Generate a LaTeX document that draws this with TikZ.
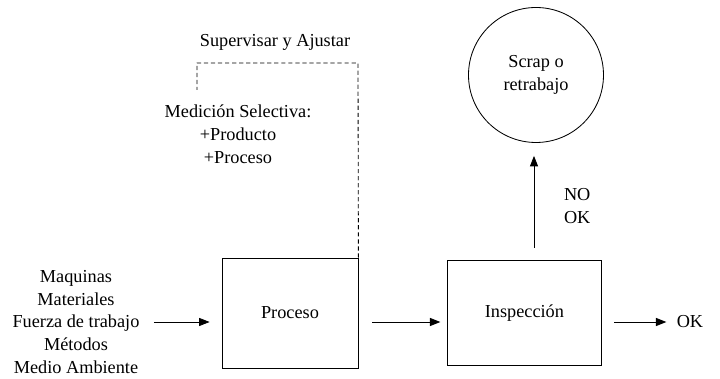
\documentclass[tikz,border=0pt]{standalone}
\usepackage{fontspec}
\setmainfont{Liberation Serif}
\usetikzlibrary{arrows.meta}

\begin{document}
\begin{tikzpicture}[
    font=\rmfamily\fontsize{13}{16.2}\selectfont,
    line width=0.6pt,
    box/.style={rectangle, draw=black, minimum width=3.4cm, minimum height=2.75cm},
    txt/.style={align=center, inner sep=0pt},
    arr/.style={-{Triangle[length=2.6mm, width=2mm]}}
]
    \useasboundingbox (0, 0) rectangle (18, 9.475);

    % Main boxes
    \node[box] (proceso) at (7.25, 1.65) {Proceso};
    \node[box, minimum width=3.83cm, minimum height=2.63cm] (inspeccion) at (13.11, 1.66) {Inspecci\'on};
    \node[circle, draw=black, minimum size=3.375cm, align=center] (scrap) at (13.4, 7.6) {Scrap o\\retrabajo};

    % Texts
    \node[txt] (entradas) at (1.9, 1.425) {Maquinas\\Materiales\\Fuerza de trabajo\\M\'etodos\\Medio Ambiente};
    \node[txt] (ok) at (17.25, 1.425) {OK};
    \node[txt] (nook) at (14.43, 4.33) {NO\\OK};
    \node[txt] (supervisar) at (6.875, 8.425) {Supervisar y Ajustar};
    \node[txt] (medicion) at (5.95, 6.125) {Medici\'on Selectiva:\\+Producto\\+Proceso};

    % Flow
    \draw[arr, shorten <=0.35cm, shorten >=0.3cm] (entradas.east) -- (entradas.east -| proceso.west);
    \draw[arr, shorten <=0.35cm, shorten >=0.175cm] (proceso.east |- entradas.east) -- (inspeccion.west |- entradas.east);
    \draw[arr, shorten <=0.325cm, shorten >=0.25cm] (inspeccion.east |- entradas.east) -- (ok.west |- entradas.east);
    \draw[arr, shorten <=0.3cm, shorten >=0.325cm] (inspeccion.north -| 13.35, 0) -- (scrap.south -| 13.35, 0);

    % Feedback
    \coordinate (fin) at (4.925, 7.225);
    \draw[dash pattern=on 3pt off 2pt] (proceso.north east) -- (8.95, 7.9) -- (4.925, 7.9) -- (fin);

\end{tikzpicture}
\end{document}
